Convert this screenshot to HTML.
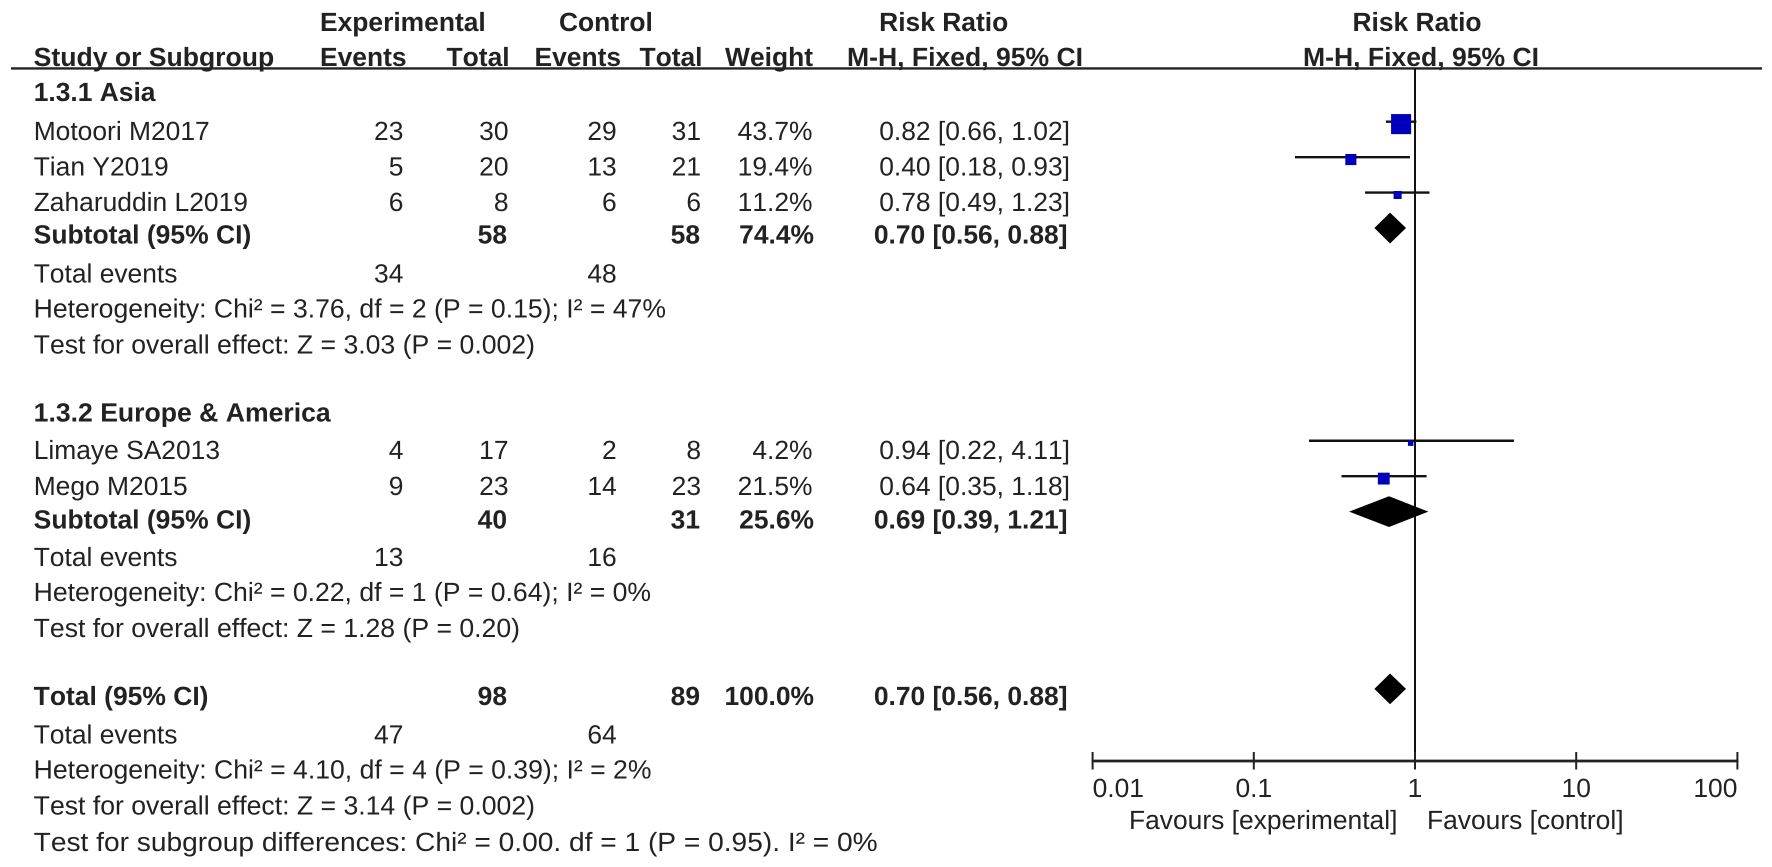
<!DOCTYPE html>
<html lang="en">
<head>
<meta charset="utf-8">
<title>Forest plot: Risk Ratio</title>
<style>
html,body{margin:0;padding:0;background:#fff;width:1772px;height:867px;overflow:hidden}
svg{display:block}
text{font-family:"Liberation Sans",Arial,sans-serif;font-size:26.4px;fill:#222;font-kerning:none;text-rendering:geometricPrecision}
.b{font-weight:700}
.r{text-anchor:end}
.m{text-anchor:middle}
</style>
</head>
<body>
<svg id="forest" xmlns="http://www.w3.org/2000/svg" width="1772" height="867" viewBox="0 0 1772 867">
<rect x="0" y="0" width="1772" height="867" fill="#fff"/>

<g class="b">
<text class="b" x="320" y="31">Experimental</text>
<text class="b" x="559" y="31">Control</text>
<text class="b m" x="943.7" y="31">Risk Ratio</text>
<text class="b m" x="1417" y="31">Risk Ratio</text>
<text class="b" x="33.7" y="66" textLength="240.5" lengthAdjust="spacingAndGlyphs">Study or Subgroup</text>
<text class="b" x="320" y="66">Events</text>
<text class="b r" x="509.6" y="66">Total</text>
<text class="b" x="534.5" y="66">Events</text>
<text class="b r" x="702.5" y="66">Total</text>
<text class="b r" x="813" y="66">Weight</text>
<text class="b" x="847" y="66" textLength="236" lengthAdjust="spacingAndGlyphs">M-H, Fixed, 95% CI</text>
<text class="b" x="1303" y="66" textLength="236" lengthAdjust="spacingAndGlyphs">M-H, Fixed, 95% CI</text>
</g>
<line x1="11" x2="1762" y1="68.4" y2="68.4" stroke="#222" stroke-width="2.4"/>

<g>
<text class="b" x="33.7" y="101">1.3.1 Asia</text>

<g>
<text x="33.7" y="140">Motoori M2017</text>
<text class="r" x="403.4" y="140">23</text>
<text class="r" x="508.5" y="140">30</text>
<text class="r" x="616.7" y="140">29</text>
<text class="r" x="701" y="140">31</text>
<text class="r" x="812.5" y="140">43.7%</text>
<text class="r" x="1070" y="140">0.82 [0.66, 1.02]</text>
</g>
<g>
<text x="33.7" y="175.7">Tian Y2019</text>
<text class="r" x="403.4" y="175.7">5</text>
<text class="r" x="508.5" y="175.7">20</text>
<text class="r" x="616.7" y="175.7">13</text>
<text class="r" x="701" y="175.7">21</text>
<text class="r" x="812.5" y="175.7">19.4%</text>
<text class="r" x="1070" y="175.7">0.40 [0.18, 0.93]</text>
</g>
<g>
<text x="33.7" y="211">Zaharuddin L2019</text>
<text class="r" x="403.4" y="211">6</text>
<text class="r" x="508.5" y="211">8</text>
<text class="r" x="616.7" y="211">6</text>
<text class="r" x="701" y="211">6</text>
<text class="r" x="812.5" y="211">11.2%</text>
<text class="r" x="1070" y="211">0.78 [0.49, 1.23]</text>
</g>
<g class="b">
<text class="b" x="33.7" y="243.5" textLength="217.6" lengthAdjust="spacingAndGlyphs">Subtotal (95% CI)</text>
<text class="b r" x="507" y="243.5">58</text>
<text class="b r" x="700" y="243.5">58</text>
<text class="b r" x="814" y="243.5">74.4%</text>
<text class="b r" x="1067.5" y="243.5">0.70 [0.56, 0.88]</text>
</g>
<text x="33.7" y="282.3">Total events</text>
<text class="r" x="403.4" y="282.3">34</text>
<text class="r" x="616.7" y="282.3">48</text>
<text x="33.7" y="317.6" textLength="632.3" lengthAdjust="spacingAndGlyphs">Heterogeneity: Chi² = 3.76, df = 2 (P = 0.15); I² = 47%</text>
<text x="33.7" y="353.7" textLength="501.3" lengthAdjust="spacingAndGlyphs">Test for overall effect: Z = 3.03 (P = 0.002)</text>
</g>

<g>
<text class="b" x="33.7" y="421.5" textLength="297" lengthAdjust="spacingAndGlyphs">1.3.2 Europe &amp; America</text>

<g>
<text x="33.7" y="459">Limaye SA2013</text>
<text class="r" x="403.4" y="459">4</text>
<text class="r" x="508.5" y="459">17</text>
<text class="r" x="616.7" y="459">2</text>
<text class="r" x="701" y="459">8</text>
<text class="r" x="812.5" y="459">4.2%</text>
<text class="r" x="1070" y="459">0.94 [0.22, 4.11]</text>
</g>
<g>
<text x="33.7" y="495">Mego M2015</text>
<text class="r" x="403.4" y="495">9</text>
<text class="r" x="508.5" y="495">23</text>
<text class="r" x="616.7" y="495">14</text>
<text class="r" x="701" y="495">23</text>
<text class="r" x="812.5" y="495">21.5%</text>
<text class="r" x="1070" y="495">0.64 [0.35, 1.18]</text>
</g>
<g class="b">
<text class="b" x="33.7" y="528.5" textLength="217.6" lengthAdjust="spacingAndGlyphs">Subtotal (95% CI)</text>
<text class="b r" x="507" y="528.5">40</text>
<text class="b r" x="700" y="528.5">31</text>
<text class="b r" x="814" y="528.5">25.6%</text>
<text class="b r" x="1067.5" y="528.5">0.69 [0.39, 1.21]</text>
</g>
<text x="33.7" y="566">Total events</text>
<text class="r" x="403.4" y="566">13</text>
<text class="r" x="616.7" y="566">16</text>
<text x="33.7" y="601" textLength="617.3" lengthAdjust="spacingAndGlyphs">Heterogeneity: Chi² = 0.22, df = 1 (P = 0.64); I² = 0%</text>
<text x="33.7" y="637" textLength="486.3" lengthAdjust="spacingAndGlyphs">Test for overall effect: Z = 1.28 (P = 0.20)</text>
</g>

<g>
<g class="b">
<text class="b" x="33.7" y="705" textLength="174.8" lengthAdjust="spacingAndGlyphs">Total (95% CI)</text>
<text class="b r" x="507" y="705">98</text>
<text class="b r" x="700" y="705">89</text>
<text class="b r" x="814" y="705">100.0%</text>
<text class="b r" x="1067.5" y="705">0.70 [0.56, 0.88]</text>
</g>
<text x="33.7" y="743.5">Total events</text>
<text class="r" x="403.4" y="743.5">47</text>
<text class="r" x="616.7" y="743.5">64</text>
<text x="33.7" y="778.6" textLength="617.8" lengthAdjust="spacingAndGlyphs">Heterogeneity: Chi² = 4.10, df = 4 (P = 0.39); I² = 2%</text>
<text x="33.7" y="814.7" textLength="501.3" lengthAdjust="spacingAndGlyphs">Test for overall effect: Z = 3.14 (P = 0.002)</text>
<text x="33.7" y="850.8" textLength="844" lengthAdjust="spacingAndGlyphs">Test for subgroup differences: Chi² = 0.00. df = 1 (P = 0.95). I² = 0%</text>
</g>

<text x="1129" y="829">Favours [experimental]</text>
<text x="1427" y="829">Favours [control]</text>
<g id="plot"></g>
</svg>
<script>
// Study estimates
const studyNames = ["Motoori M2017", "Tian Y2019", "Zaharuddin L2019", "Limaye SA2013", "Mego M2015"];
const studyRows = [0, 1, 2, 9, 10];
const studyRatios = [0.82, 0.40, 0.78, 0.94, 0.64];
const studyLower = [0.66, 0.18, 0.49, 0.22, 0.35];
const studyUpper = [1.02, 0.93, 1.23, 4.11, 1.18];
const studyWeights = [43.7, 19.4, 11.2, 4.2, 21.5];

// Pooled estimates
const pooledNames = ["asia-subtotal", "europe-america-subtotal", "overall-total"];
const pooledRows = [3, 11, 16];
const pooledRatios = [0.70, 0.69, 0.70];
const pooledLower = [0.56, 0.39, 0.56];
const pooledUpper = [0.88, 1.21, 0.88];

// Axis
const tickValues = [0.01, 0.1, 1, 10, 100];
const tickLabels = ["0.01", "0.1", "1", "10", "100"];

const NS = "http://www.w3.org/2000/svg";
const plot = document.getElementById("plot");

function xScale(v) { return 1415 + 161.2 * Math.log10(v); }
function yScale(row) { return 121.7 + 35.45 * row; }
function squareSize(w) { return 3.9 + 0.37 * w; }

function make(tag, attrs) {
  const el = document.createElementNS(NS, tag);
  for (const k in attrs) el.setAttribute(k, attrs[k]);
  plot.appendChild(el);
  return el;
}

const AXIS_Y = 761;

const refLine = make("line", { x1: xScale(1), x2: xScale(1), y1: 68, y2: AXIS_Y, stroke: "#111", "stroke-width": 2 });



studyNames.forEach(function (name, i) {
  const y = yScale(studyRows[i]);
  const ci = make("line", { x1: xScale(studyLower[i]), x2: xScale(studyUpper[i]), y1: y, y2: y, stroke: "#111", "stroke-width": 2.4 });
  
  
  const s = squareSize(studyWeights[i]);
  const sq = make("rect", { x: xScale(studyRatios[i]) - s / 2, y: y + 2.4 - s / 2, width: s, height: s, fill: "#0000bb" });
  
  
});

pooledNames.forEach(function (name, i) {
  const y = yScale(pooledRows[i]);
  const pts = [
    [xScale(pooledLower[i]), y],
    [xScale(pooledRatios[i]), y - 15.4],
    [xScale(pooledUpper[i]), y],
    [xScale(pooledRatios[i]), y + 15.4]
  ].map(function (p) { return p.join(","); }).join(" ");
  const d = make("polygon", { points: pts, fill: "#000" });
  
  
});

const axisLine = make("line", { x1: xScale(tickValues[0]) - 1, x2: xScale(tickValues[tickValues.length - 1]) + 1, y1: AXIS_Y, y2: AXIS_Y, stroke: "#222", "stroke-width": 2.8 });



tickValues.forEach(function (v, i) {
  const t = make("line", { x1: xScale(v), x2: xScale(v), y1: AXIS_Y - 9, y2: AXIS_Y + 8.5, stroke: "#222", "stroke-width": 2 });
  
  
  const anchor = i === 0 ? "start" : (i === tickValues.length - 1 ? "end" : "middle");
  const lab = make("text", { x: xScale(v), y: 797, "text-anchor": anchor });
  lab.textContent = tickLabels[i];
  
  
});
</script>
</body>
</html>
